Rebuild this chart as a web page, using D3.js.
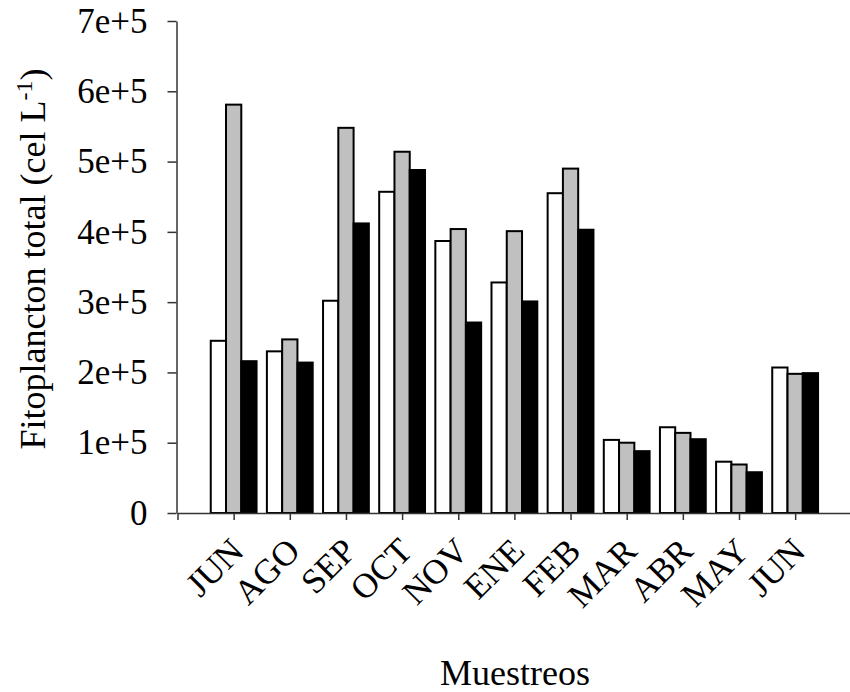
<!DOCTYPE html>
<html>
<head>
<meta charset="utf-8">
<script src="https://cdn.jsdelivr.net/npm/d3@7"></script>
<style>
  html, body { margin: 0; padding: 0; background: #fff; }
  svg { display: block; font-family: "Liberation Serif", "Times New Roman", serif; }
</style>
</head>
<body>
<svg id="chart" width="850" height="692"></svg>
<script>
// Sampling months along the x axis
const months = ["JUN", "AGO", "SEP", "OCT", "NOV", "ENE", "FEB", "MAR", "ABR", "MAY", "JUN"];

// Total phytoplankton (cells per litre), three series per sampling
const seriesWhite = [245000, 230000, 302000, 457000, 387000, 328000, 455000, 104000, 122000, 73000, 207000];
const seriesGray  = [581000, 247000, 548000, 514000, 404000, 401000, 490000, 100000, 114000, 69000, 198000];
const seriesBlack = [216000, 214000, 412000, 488000, 271000, 301000, 403000, 88000, 105000, 58000, 199000];

const yTicks = [0, 100000, 200000, 300000, 400000, 500000, 600000, 700000];
const yTickLabels = ["0", "1e+5", "2e+5", "3e+5", "4e+5", "5e+5", "6e+5", "7e+5"];

const series = [
  { values: seriesWhite, fill: "#ffffff" },
  { values: seriesGray,  fill: "#c0c0c0" },
  { values: seriesBlack, fill: "#000000" }
];

const svg = d3.select("#chart");
const fontSize = 35;

// Positions 1..11 hold the months; 0 is the axis origin
const x = d3.scaleLinear().domain([0, 12]).range([177.5, 851.3]);
const y = d3.scaleLinear().domain([0, 700000]).range([513, 21]);

const step = x(1) - x(0);
const barW = step * 0.272;

// Bars
series.forEach((s, si) => {
  svg.append("g")
    .selectAll("rect")
    .data(s.values)
    .join("rect")
      .attr("x", (d, i) => x(i + 1) - 1.5 * barW + si * barW)
      .attr("y", d => y(d))
      .attr("width", barW)
      .attr("height", d => y(0) - y(d))
      .attr("fill", s.fill)
      .attr("stroke", "#000")
      .attr("stroke-width", 2);
});

// Y axis
const yAxis = d3.axisLeft(y)
  .tickValues(yTicks)
  .tickFormat((d, i) => yTickLabels[i])
  .tickSize(9)
  .tickSizeOuter(0)
  .tickPadding(20);

const gy = svg.append("g")
  .attr("transform", `translate(${x(0) - 1},0)`)
  .call(yAxis);
gy.selectAll("path.domain").attr("stroke", "#333").attr("stroke-width", 1.5);
gy.selectAll(".tick line").attr("stroke", "#333").attr("stroke-width", 1.5);
gy.selectAll(".tick text")
  .attr("fill", "#000")
  .style("font-family", '"Liberation Serif", "Times New Roman", serif')
  .style("font-size", fontSize + "px");

// X axis: ticks at every integer position, labels drawn separately
const xAxis = d3.axisBottom(x)
  .tickValues(d3.range(0, 12))
  .tickFormat("")
  .tickSize(7)
  .tickSizeOuter(0);

const gx = svg.append("g")
  .attr("transform", `translate(0,${y(0)})`)
  .call(xAxis);
gx.selectAll("path.domain").attr("stroke", "#333").attr("stroke-width", 1.5);
gx.selectAll(".tick line").attr("stroke", "#333").attr("stroke-width", 1.5);

// Rotated month labels
svg.append("g")
  .selectAll("text")
  .data(months)
  .join("text")
    .attr("transform", (d, i) => `translate(${x(i + 1) + 12},${y(0) + 40}) rotate(-45)`)
    .attr("text-anchor", "end")
    .style("font-size", fontSize + "px")
    .attr("fill", "#000")
    .text(d => d);

// X axis title
svg.append("text")
  .attr("x", 515)
  .attr("y", 685)
  .attr("text-anchor", "middle")
  .style("font-size", "36px")
  .attr("fill", "#000")
  .text("Muestreos");

// Y axis title with superscript exponent
const yTitle = svg.append("text")
  .attr("transform", "translate(45,259) rotate(-90)")
  .attr("text-anchor", "middle")
  .style("font-size", "36px")
  .attr("fill", "#000");
yTitle.append("tspan").text("Fitoplancton total (cel L");
yTitle.append("tspan").attr("dy", -13).style("font-size", "24px").text("-1");
yTitle.append("tspan").attr("dy", 13).text(")");
</script>
</body>
</html>
